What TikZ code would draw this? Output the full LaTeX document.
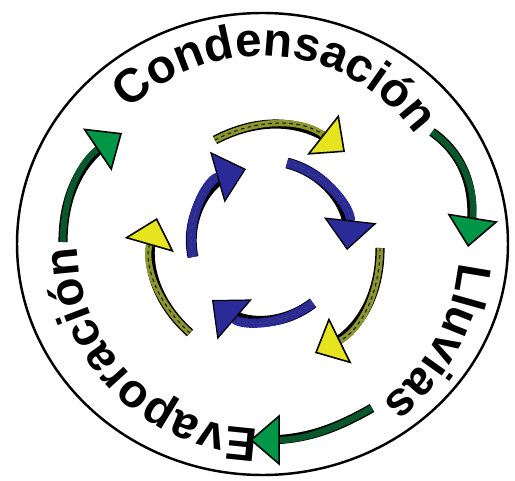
\documentclass[tikz,border=0pt]{standalone}
\usepackage{fontspec}
\setmainfont{Liberation Sans}
\usetikzlibrary{arrows.meta,decorations.text}

\definecolor{dkgreen}{RGB}{8,88,44}
\definecolor{tipgreen}{RGB}{0,150,72}
\definecolor{shaftolive}{RGB}{140,150,44}
\definecolor{tipyellow}{RGB}{230,228,30}
\definecolor{cycblue}{RGB}{42,42,152}

\newcommand\cyclefont{\fontsize{27}{30}\selectfont\bfseries}

\tikzset{
	ring/.style={draw=black, line width=1.4pt},
	wordpath/.style={decorate, decoration={text along path, text align=center, text={|\cyclefont|#1}}},
	greenarrow/.style={draw=dkgreen, line width=3.6pt, preaction={draw=black, line width=5.2pt, -, shorten >=8pt}, -{Triangle[length=17pt, width=29pt, color=black, fill=tipgreen, line width=0.9pt]}},
	yellowarrow/.style={draw=shaftolive, line width=3.6pt, preaction={draw=black, line width=5.2pt, -, shorten >=8pt}, postaction={draw=black, line width=0.5pt, dash pattern=on 2pt off 2pt, -, shorten >=16pt}, -{Triangle[length=16pt, width=29pt, color=black, fill=tipyellow, line width=0.9pt]}},
	bluearrow/.style={draw=cycblue, line width=5.2pt, preaction={draw=black, line width=6.2pt, -, shorten >=8pt}, postaction={draw=black!70, line width=0.4pt, dash pattern=on 2pt off 2pt, -, shorten >=17pt}, -{Triangle[length=17pt, width=30pt, color=black, fill=cycblue, line width=0.7pt]}}
}

\begin{document}
\begin{tikzpicture}[x=0.02cm, y=0.02cm]
	\useasboundingbox (0,0) rectangle (515,481);
	
	\coordinate (ctr) at (262,237);
	\draw[ring] (262.5,237) ellipse[x radius=245.5, y radius=231];
	
	% texto del ciclo
	\path[wordpath=Condensación] (ctr) ++(160:188) arc[start angle=160, end angle=10, radius=188];
	\path[wordpath=Lluvias] (ctr) ++(10:198) arc[start angle=10, end angle=-68, radius=198];
	\path[wordpath=Evaporación] (ctr) ++(-75:185) arc[start angle=-75, end angle=-195, radius=185];
	
	% flechas exteriores
	\coordinate (g1s) at (63,239);   \coordinate (g1e) at (122,348);
	\coordinate (g2s) at (432,349);  \coordinate (g2e) at (468,234);
	\coordinate (g3s) at (372,73);   \coordinate (g3e) at (250,41);
	\draw[greenarrow] (g1s) to[out=90, in=214] (g1e);
	\draw[greenarrow] (g2s) to[out=-35, in=81] (g2e);
	\draw[greenarrow] (g3s) to[out=210, in=0] (g3e);
	
	% flechas amarillas
	\coordinate (y1s) at (215,341);  \coordinate (y1e) at (345,329);
	\coordinate (y2s) at (380,233);  \coordinate (y2e) at (315,128);
	\coordinate (y3s) at (190,148);  \coordinate (y3e) at (157,263);
	\draw[yellowarrow] (y1s) to[bend left=33] (y1e);
	\draw[yellowarrow] (y2s) to[bend left=32] (y2e);
	\draw[yellowarrow] (y3s) to[bend left=32] (y3e);
	
	% flechas azules
	\coordinate (b1s) at (193,224);  \coordinate (b1e) at (246,312);
	\coordinate (b2s) at (287,318);  \coordinate (b2e) at (347,231);
	\coordinate (b3s) at (313,178);  \coordinate (b3e) at (212,181);
	\draw[bluearrow] (b1s) to[bend left=43] (b1e);
	\draw[bluearrow] (b2s) to[bend left=41] (b2e);
	\draw[bluearrow] (b3s) to[bend left=39] (b3e);
\end{tikzpicture}
\end{document}
